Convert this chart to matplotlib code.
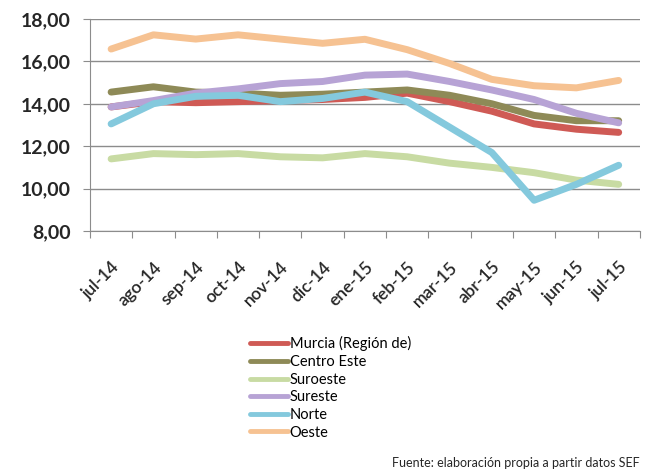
import matplotlib
matplotlib.use("Agg")
import matplotlib.pyplot as plt

plt.rcParams['font.family'] = ['Lato', 'DejaVu Sans']

months = ['jul-14', 'ago-14', 'sep-14', 'oct-14', 'nov-14', 'dic-14', 'ene-15',
          'feb-15', 'mar-15', 'abr-15', 'may-15', 'jun-15', 'jul-15']

murcia = [13.85, 14.10, 14.05, 14.10, 14.15, 14.20, 14.30, 14.50, 14.10, 13.65, 13.05, 12.80, 12.65]
centro_este = [14.55, 14.80, 14.55, 14.50, 14.40, 14.45, 14.55, 14.65, 14.40, 14.00, 13.45, 13.20, 13.20]
suroeste = [11.40, 11.65, 11.60, 11.65, 11.50, 11.45, 11.65, 11.50, 11.20, 11.00, 10.75, 10.40, 10.20]
sureste = [13.85, 14.15, 14.50, 14.70, 14.95, 15.05, 15.35, 15.40, 15.05, 14.65, 14.20, 13.55, 13.10]
norte = [13.05, 14.00, 14.35, 14.40, 14.10, 14.25, 14.55, 14.10, 12.90, 11.70, 9.45, 10.20, 11.10]
oeste = [16.58, 17.25, 17.05, 17.25, 17.05, 16.85, 17.04, 16.55, 15.90, 15.15, 14.85, 14.75, 15.10]

series = [
    ('Murcia (Región de)', murcia, '#cf5a55'),
    ('Centro Este', centro_este, '#8e8a57'),
    ('Suroeste', suroeste, '#c8dba3'),
    ('Sureste', sureste, '#b7a3d5'),
    ('Norte', norte, '#84c9dd'),
    ('Oeste', oeste, '#f6c292'),
]

fig = plt.figure(figsize=(6.45, 4.73), dpi=100)
ax = fig.add_axes([0.1395, 0.5116, 0.8525, 0.4484])

x = list(range(len(months)))
for name, vals, col in series:
    ax.plot(x, vals, color=col, lw=5, solid_joinstyle='round', solid_capstyle='round', label=name)

ax.set_xlim(-0.5, len(months) - 0.5)
ax.set_ylim(8, 18)
ax.set_yticks([8, 10, 12, 14, 16, 18])
ax.yaxis.set_major_formatter(matplotlib.ticker.FuncFormatter(lambda v, p: ('%.2f' % v).replace('.', ',')))
ax.grid(axis='y', color='#8c8c8c', lw=1)
ax.set_axisbelow(True)

# category boundaries carry the ticks, labels sit at category centres
ax.set_xticks([i - 0.5 for i in range(len(months) + 1)])
ax.set_xticklabels([])
ax.set_xticks(x, minor=True)
ax.set_xticklabels(months, minor=True, rotation=45, ha='right', rotation_mode='anchor')
ax.tick_params(axis='x', which='minor', length=0, pad=20, labelsize=12.5)
ax.tick_params(axis='x', which='major', length=5, color='#8c8c8c', direction='out')
ax.tick_params(axis='y', length=5, color='#8c8c8c', labelsize=14, pad=9)

for s in ['top', 'right']:
    ax.spines[s].set_visible(False)
for s in ['left', 'bottom']:
    ax.spines[s].set_color('#8c8c8c')

for lbl in ax.get_yticklabels():
    lbl.set_color('#262626')
    lbl.set_fontweight('bold')
for lbl in ax.get_xticklabels(minor=True):
    lbl.set_color('#262626')
    lbl.set_fontweight('semibold')

leg = fig.legend(loc='upper left', bbox_to_anchor=(0.388, 0.289), frameon=False,
                 fontsize=10.5, handlelength=2.6, handletextpad=0.1, labelspacing=0.25,
                 borderaxespad=0, borderpad=0)
for line in leg.get_lines():
    line.set_linewidth(3.5)

fig.text(0.992, 0.008, 'Fuente: elaboración propia a partir datos SEF', ha='right', va='bottom',
         fontsize=9, color='#262626')

fig.savefig('out.png', dpi=100)
